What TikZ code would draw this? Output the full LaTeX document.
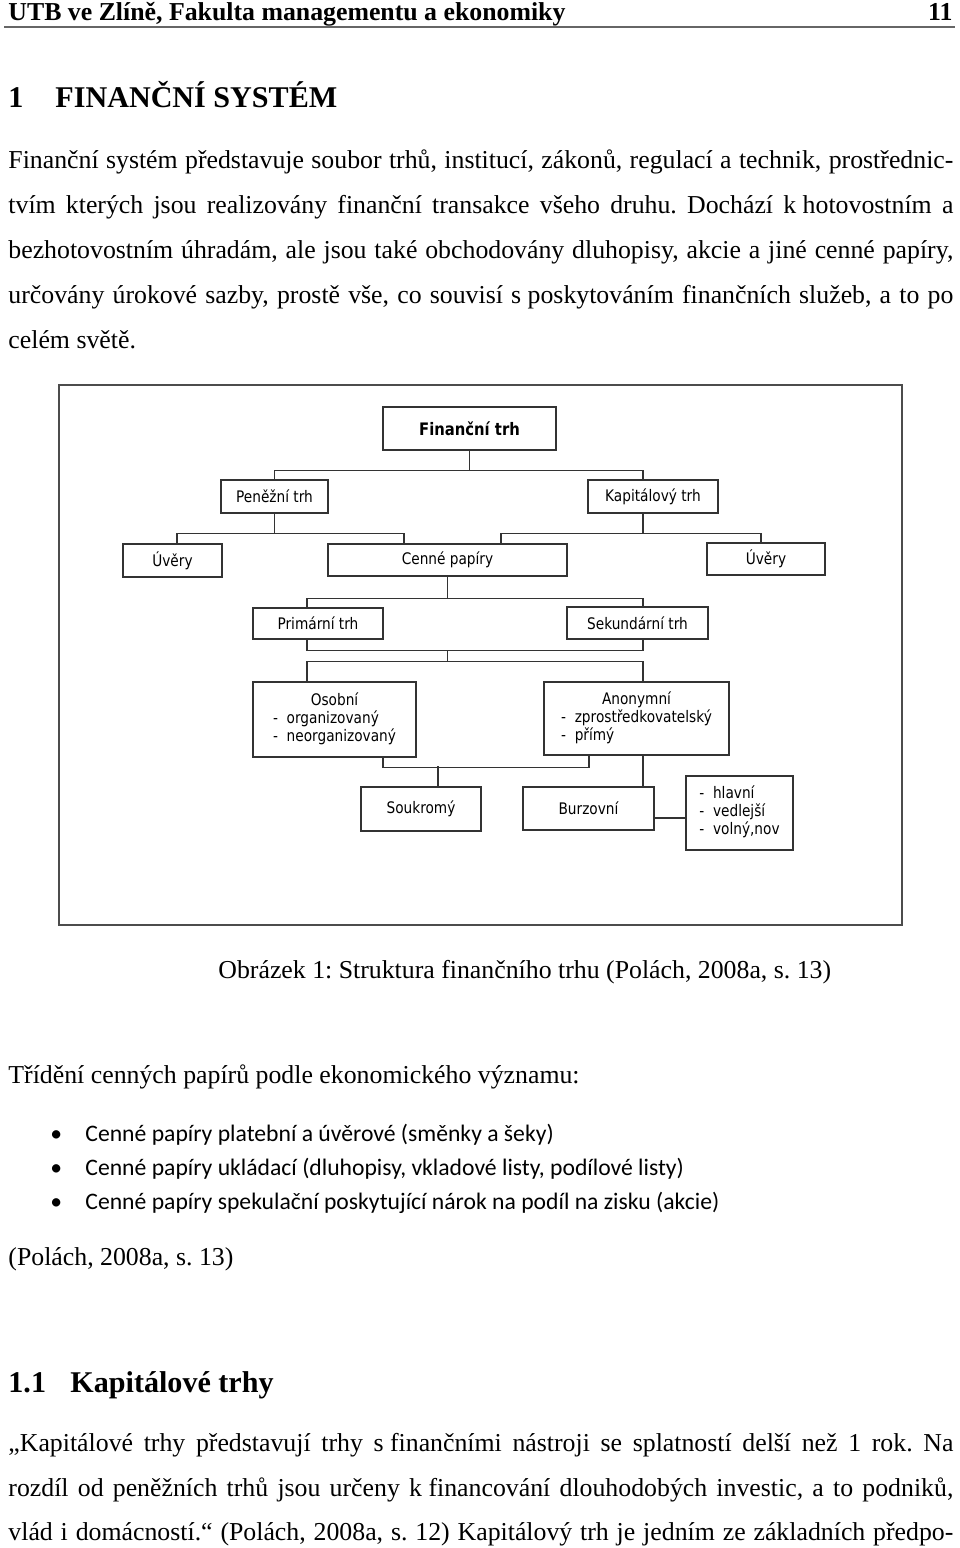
\documentclass[tikz,border=0pt]{standalone}
\usepackage{fontspec}
\setmainfont{Liberation Serif}
\newfontfamily\calibrifont{Carlito}
\newfontfamily\verdanafont{DejaVu Sans}[FakeStretch=0.86]
\usetikzlibrary{calc}
\tikzset{
	box/.style={draw=black!80, line width=0.7pt, inner sep=0pt,
		font=\verdanafont\fontsize{7.4}{8.4}\selectfont},
	sz/.style 2 args={minimum width=#1*0.465pt, minimum height=#2*0.465pt},
	link/.style={draw=black!80, line width=0.6pt},
	txt/.style={inner sep=0pt, anchor=base west, font=\fontsize{12}{14}\selectfont},
	txtb/.style={txt, font=\bfseries\fontsize{12}{14}\selectfont},
	head/.style={txt, font=\bfseries\fontsize{14}{16}\selectfont},
	subhead/.style={txt, font=\bfseries\fontsize{14}{16}\selectfont},
	bul/.style={txt, font=\calibrifont\fontsize{11}{13}\selectfont},
}
\def\linew{439.4pt}
\newcommand\jline[1]{\makebox[\linew][s]{#1}}
\frenchspacing

\begin{document}
\begin{tikzpicture}[x=0.465pt, y=-0.465pt]
		\useasboundingbox (0,0) rectangle (960,1548);
		%%%%% PAGE TEXT %%%%%
		
		\node[txtb] (hdr) at (8,20) {UTB ve Zlíně, Fakulta managementu a ekonomiky};
		\node[txtb, anchor=base east] (pnum) at (953,20) {11};
		\draw[line width=0.5pt, color=black!60] (4,27) -- (955,27);
		
		\node[head] (hnum) at (8,107) {1};
		\node[head] (htitle) at (55,107) {FINANČNÍ SYSTÉM};
		
		\node[txt] (pa1) at (8,168) {\jline{Finanční systém představuje soubor trhů, institucí, zákonů, regulací a technik, prostřednic-}};
		\node[txt] (pa2) at (8,213) {\jline{tvím kterých jsou realizovány finanční transakce všeho druhu. Dochází k\hspace{.25em}hotovostním a}};
		\node[txt] (pa3) at (8,258) {\jline{bezhotovostním úhradám, ale jsou také obchodovány dluhopisy, akcie a jiné cenné papíry,}};
		\node[txt] (pa4) at (8,303) {\jline{určovány úrokové sazby, prostě vše, co souvisí s\hspace{.25em}poskytováním finančních služeb, a to po}};
		\node[txt] (pa5) at (8,348) {celém světě.};
		
		%%%%% FIGURE %%%%%
		
		\draw[line width=0.7pt, color=black!70] (59,385) rectangle (902,925);
		
		\node[box, sz={173}{43}, font=\verdanafont\bfseries\fontsize{8}{9}\selectfont] (fin) at (469.5,428.5) {Finanční trh};
		\node[box, sz={107}{33}] (pen) at (274.5,496.5) {Peněžní trh};
		\node[box, sz={130}{33}] (kap) at (653,496.5) {Kapitálový trh};
		\node[box, sz={99}{33}] (uv1) at (172.5,560.5) {Úvěry};
		\node[box, sz={239}{32}] (cen) at (447.5,560) {Cenné papíry};
		\node[box, sz={118}{32}] (uv2) at (766,559) {Úvěry};
		\node[box, sz={130}{31}] (pri) at (318,623.5) {Primární trh};
		\node[box, sz={141}{32}] (sek) at (637.5,623) {Sekundární trh};
		\node[box, sz={163}{75}] (oso) at (334.5,719.5)
			{\begin{tabular}{@{}c@{}}Osobní\\ \begin{tabular}{@{}l@{}}-~ organizovaný\\ -~ neorganizovaný\end{tabular}\end{tabular}};
		\node[box, sz={185}{73}] (ano) at (636.5,718.5)
			{\begin{tabular}{@{}c@{}}Anonymní\\ \begin{tabular}{@{}l@{}}-~ zprostředkovatelský\\ -~ přímý\end{tabular}\end{tabular}};
		\node[box, sz={120}{44}] (sou) at (421,809) {Soukromý};
		\node[box, sz={131}{43}] (bur) at (588.5,808.5) {Burzovní};
		\node[box, sz={107}{74}] (lst) at (739.5,813)
			{\begin{tabular}{@{}l@{}}-~ hlavní\\ -~ vedlejší\\ -~ volný,nov\end{tabular}};
		
		\coordinate (j1) at ($(fin.south)+(0,20)$);
		\draw[link] (fin.south) -- (j1) -| (pen.north);
		\draw[link] (j1) -| ($(kap.north)+(-10,0)$);
		
		\coordinate (j2) at ($(pen.south)+(0,20)$);
		\draw[link] (pen.south) -- (j2) -| ($(uv1.north)+(4.5,0)$);
		\draw[link] (j2) -| ($(cen.north)+(-43.5,0)$);
		\coordinate (j3) at ($(kap.south)+(-10,20)$);
		\draw[link] ($(kap.south)+(-10,0)$) -- (j3) -| ($(uv2.north)+(-5,0)$);
		\draw[link] (j3) -| ($(cen.north)+(53.5,0)$);
		
		\coordinate (j4) at ($(cen.south)+(0,22)$);
		\draw[link] (cen.south) -- (j4) -| ($(pri.north)+(-11,0)$);
		\draw[link] (j4) -| ($(sek.north)+(5.5,0)$);
		
		\draw[link] ($(pri.south)+(-11,0)$) |- ($(sek.south)+(5.5,11)$) -- ($(sek.south)+(5.5,0)$);
		\coordinate (j5) at ($(cen.south)+(0,74)$);
		\coordinate (j6) at ($(j5)+(0,11)$);
		\draw[link] (j5) -- (j6);
		\draw[link] ($(oso.north)+(-27.5,0)$) |- (j6) -| ($(ano.north)+(6.5,0)$);
		
		\draw[link] ($(oso.south)+(48.5,0)$) |- ($(ano.south)+(-47.5,12)$) -- ($(ano.south)+(-47.5,0)$);
		\coordinate (j7) at ($(sou.north)+(17,-20)$);
		\draw[link] (j7) -- ($(sou.north)+(17,0)$);
		\draw[link] ($(ano.south)+(6.5,0)$) -- ($(bur.north)+(54.5,0)$);
		\draw[link] ($(bur.east)+(0,9.5)$) -- ($(lst.west)+(0,5)$);
		
		%%%%% PAGE TEXT BELOW %%%%%
		
		\node[txt] (cap) at (218,978) {Obrázek 1: Struktura finančního trhu (Polách, 2008a, s. 13)};
		
		\node[txt] (lead) at (8,1083) {Třídění cenných papírů podle ekonomického významu:};
		\node[bul] (b1) at (50,1141) {•};
		\node[bul] (t1) at (85,1141) {Cenné papíry platební a úvěrové (směnky a šeky)};
		\node[bul] (b2) at (50,1175) {•};
		\node[bul] (t2) at (85,1175) {Cenné papíry ukládací (dluhopisy, vkladové listy, podílové listy)};
		\node[bul] (b3) at (50,1209) {•};
		\node[bul] (t3) at (85,1209) {Cenné papíry spekulační poskytující nárok na podíl na zisku (akcie)};
		\node[txt] (src) at (8,1265) {(Polách, 2008a, s. 13)};
		
		\node[subhead] (snum) at (8,1392) {1.1};
		\node[subhead] (stitle) at (70,1392) {Kapitálové trhy};
		
		\node[txt] (pb1) at (8,1451) {\jline{„Kapitálové trhy představují trhy s\hspace{.25em}finančními nástroji se splatností delší než 1 rok. Na}};
		\node[txt] (pb2) at (8,1496) {\jline{rozdíl od peněžních trhů jsou určeny k\hspace{.25em}financování dlouhodobých investic, a to podniků,}};
		\node[txt] (pb3) at (8,1540) {\jline{vlád i domácností.“ (Polách, 2008a, s. 12) Kapitálový trh je jedním ze základních předpo-}};
		
		%%%%% END %%%%%
\end{tikzpicture}
\end{document}
